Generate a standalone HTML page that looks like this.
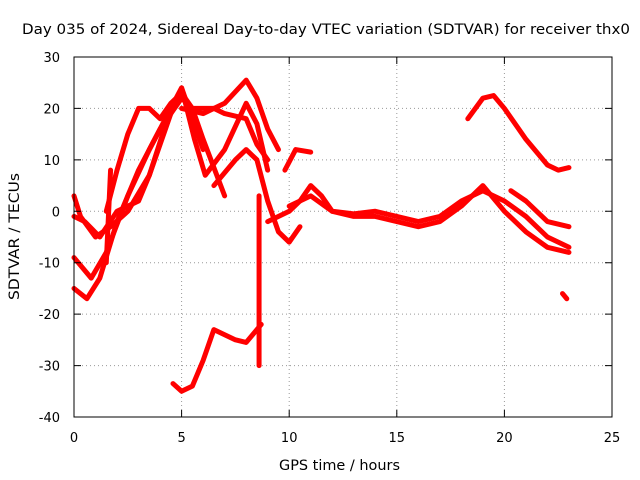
<!DOCTYPE html>
<html><head><meta charset="utf-8"><style>
body{margin:0;background:#fff;}
svg{display:block;font-family:"DejaVu Sans","Liberation Sans",sans-serif;}
</style></head><body>
<svg id="chart" width="640" height="480" viewBox="0 0 640 480">
<text x="22" y="34" font-size="14" textLength="608" lengthAdjust="spacingAndGlyphs">Day 035 of 2024, Sidereal Day-to-day VTEC variation (SDTVAR) for receiver thx0</text>
<text x="279" y="470" font-size="14" textLength="121" lengthAdjust="spacingAndGlyphs">GPS time / hours</text>
<text transform="translate(19,300) rotate(-90)" font-size="14" textLength="127" lengthAdjust="spacingAndGlyphs">SDTVAR / TECUs</text>
<g id="grid"></g><g id="series"></g>
<rect x="74" y="57" width="538" height="360" fill="none" stroke="#000" stroke-width="1"/>
<g id="ticks"></g>
</svg>
<script>
const xTicks=[0,5,10,15,20,25];
const yTicks=[30,20,10,0,-10,-20,-30,-40];
const s1=[[0,-15],[0.6,-17],[1.2,-13],[2,-2],[3,8],[4,16],[5,22],[5.5,20],[6,14],[7,3]];
const s2=[[0,-9],[0.8,-13],[1.5,-8],[2.5,3],[3.5,12],[4.5,20],[5,24],[5.5,18],[6,12]];
const s3=[[0,3],[0.3,-1],[1,-5],[1.7,-3],[2.5,0],[3.5,7],[4.5,20],[5,24],[5.6,14],[6.1,7],[7,12],[8,21],[8.5,17],[9,8]];
const s4=[[0,-1],[0.5,-2],[1.2,-5],[2,0],[3,2],[3.5,7],[4,13],[4.5,19],[5,23]];
const s5=[[1.5,0],[2,8],[2.5,15],[3,20],[3.5,20],[4,18],[4.5,21],[5,23],[5.5,20],[6.5,20],[7,19],[8,18],[8.5,13],[9,10]];
const s6=[[5,20],[6,19],[7,21],[8,25.5],[8.5,22],[9,16],[9.5,12]];
const s7=[[6.5,5],[7.5,10],[8,12],[8.5,10],[9,2],[9.5,-4],[10,-6],[10.5,-3]];
const s8=[[4.6,-33.5],[5,-35],[5.5,-34],[6,-29],[6.5,-23],[7,-24],[7.5,-25],[8,-25.5],[8.5,-23],[8.7,-22]];
const s9=[[8.6,3],[8.6,-30]];
const s10=[[9,-2],[10,0],[10.5,2],[11,5],[11.5,3],[12,0],[13,-0.5],[14,0],[15,-1],[16,-2],[17,-1],[18,2],[19,4],[20,2],[21,-1],[22,-5],[23,-7]];
const s11=[[10,1],[11,3],[12,0],[13,-1],[14,-1],[15,-2],[16,-3],[17,-2],[18,1],[19,5],[20,0],[21,-4],[22,-7],[23,-8]];
const s12=[[9.8,8],[10.3,12],[11,11.5]];
const s13=[[18.3,18],[19,22],[19.5,22.5],[20,20],[21,14],[22,9],[22.5,8],[23,8.5]];
const s14=[[20.3,4],[21,2],[22,-2],[23,-3]];
const s15=[[22.7,-16],[22.9,-17]];
const s16=[[1.5,-10],[1.7,8]];
const allSeries=[s1,s2,s3,s4,s5,s6,s7,s8,s9,s10,s11,s12,s13,s14,s15,s16];
const X=v=>74+v*538/25, Y=v=>57+(30-v)*360/70;
const NS="http://www.w3.org/2000/svg";
const grid=document.getElementById('grid'),ticks=document.getElementById('ticks'),ser=document.getElementById('series');
function mk(tag,attrs,parent){const e=document.createElementNS(NS,tag);for(const k in attrs)e.setAttribute(k,attrs[k]);parent.appendChild(e);return e;}
xTicks.forEach(t=>{
  if(t>0&&t<25){const g=mk('line',{x1:X(t),x2:X(t),y1:57,y2:417,stroke:'#999','stroke-dasharray':'1,3'},grid);
  
  }
  const tk=mk('path',{d:`M${X(t)},417v-7M${X(t)},57v7`,stroke:'#000'},ticks);
  
  
  const l=mk('text',{x:X(t),y:442,'font-size':13,'text-anchor':'middle'},ticks);l.textContent=t;
  
  
});
yTicks.forEach(t=>{
  if(t<30&&t>-40){const g=mk('line',{x1:74,x2:612,y1:Y(t),y2:Y(t),stroke:'#999','stroke-dasharray':'1,3'},grid);
  
  }
  const tk=mk('path',{d:`M74,${Y(t)}h7M612,${Y(t)}h-7`,stroke:'#000'},ticks);
  
  
  const l=mk('text',{x:60,y:Y(t)+5,'font-size':13,'text-anchor':'end'},ticks);l.textContent=t;
  
  
});
allSeries.forEach(s=>{
  const p=mk('polyline',{points:s.map(d=>X(d[0])+','+Y(d[1])).join(' '),fill:'none',stroke:'#f00','stroke-width':5,'stroke-linejoin':'round','stroke-linecap':'round'},ser);
  
  
});
</script>
</body></html>
